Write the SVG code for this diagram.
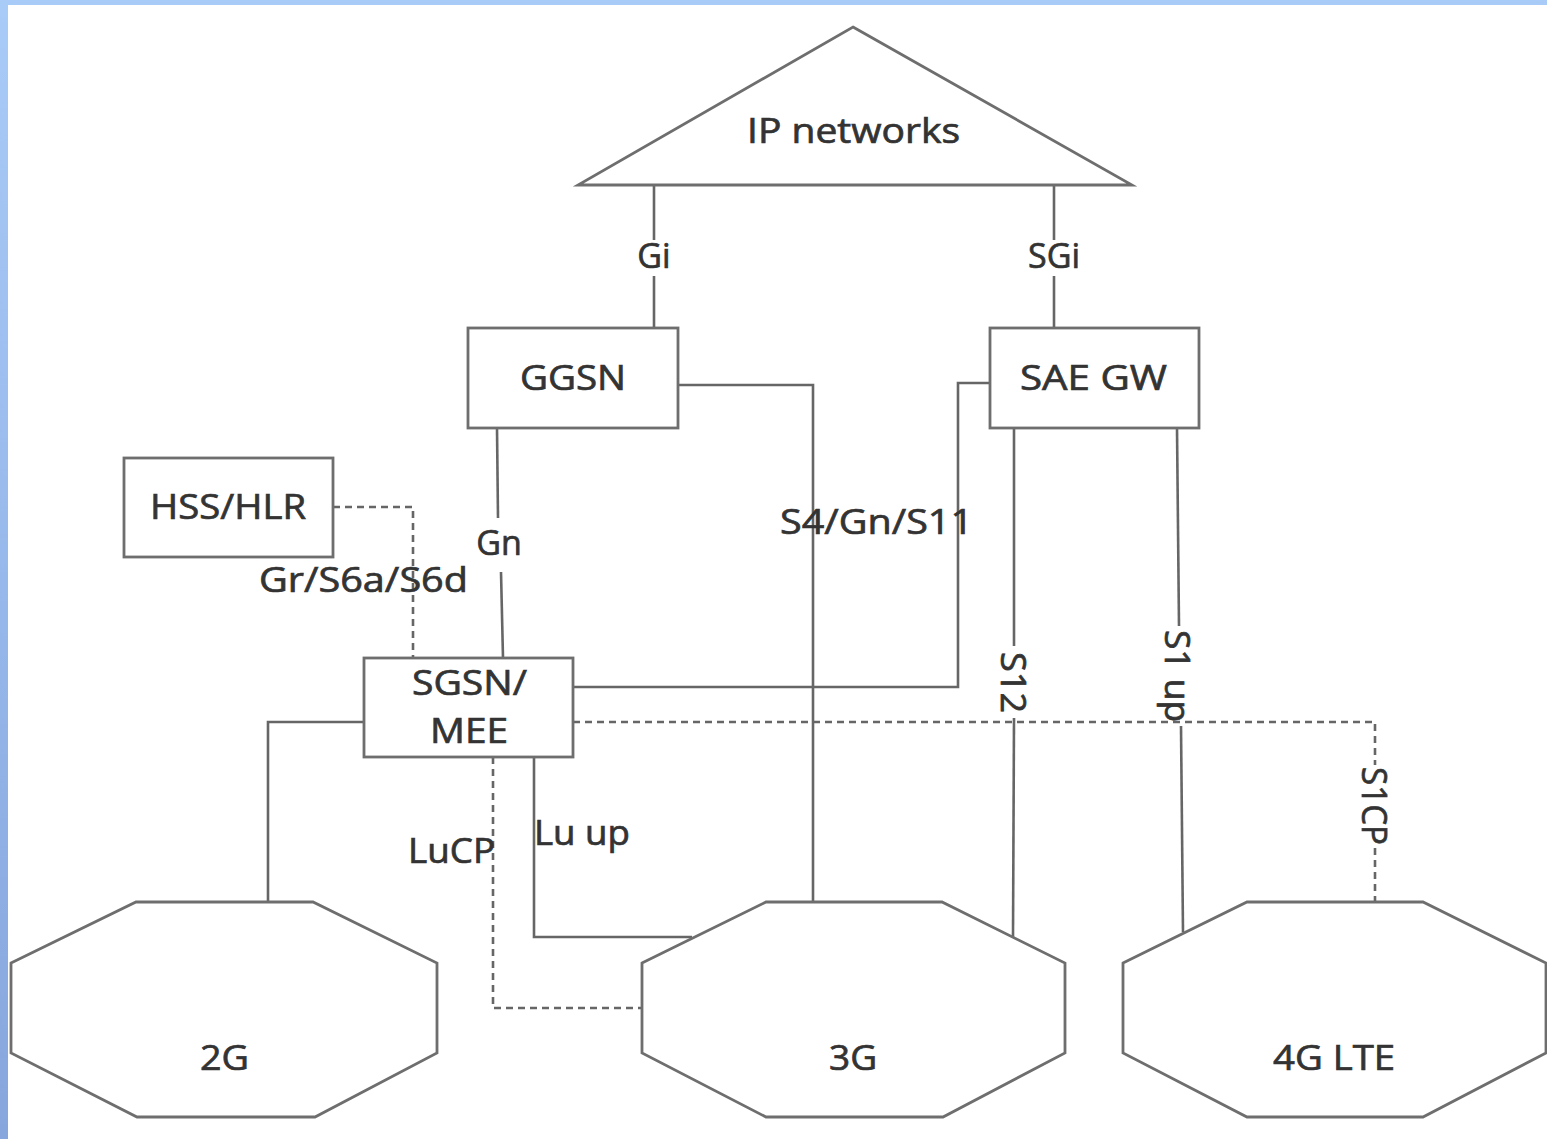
<svg xmlns="http://www.w3.org/2000/svg" width="1547" height="1139" viewBox="0 0 1547 1139">
<defs>
<linearGradient id="side" x1="0" y1="0" x2="0" y2="1">
<stop offset="0" stop-color="#a9cbf8"/>
<stop offset="1" stop-color="#86a6dd"/>
</linearGradient>
<style>
.shape{fill:#ffffff;stroke:#6e6e6e;stroke-width:2.8}
.ln{fill:none;stroke:#666666;stroke-width:2.6}
.dash{fill:none;stroke:#666666;stroke-width:2.6;stroke-dasharray:7 5}
text{font-family:"Open Sans","Liberation Sans",sans-serif;font-size:34px;fill:#333333;stroke:#333333;stroke-width:0.7}
.c{text-anchor:middle}
</style>
</defs>
<rect x="0" y="0" width="1547" height="1139" fill="#ffffff"/>
<rect x="0" y="0" width="1547" height="5" fill="#a9cbf8"/>
<rect x="0" y="0" width="8" height="1139" fill="url(#side)"/>

<g id="connectors">
<line class="ln" x1="654" y1="185" x2="654" y2="240"/>
<line class="ln" x1="654" y1="276" x2="654" y2="328"/>
<line class="ln" x1="1054" y1="185" x2="1054" y2="240"/>
<line class="ln" x1="1054" y1="276" x2="1054" y2="328"/>
<polyline class="ln" points="678,385 813,385 813,902"/>
<polyline class="ln" points="990,383 958,383 958,687 573,687"/>
<line class="ln" x1="1014" y1="428" x2="1014" y2="646"/>
<line class="ln" x1="1014" y1="718" x2="1013" y2="937"/>
<line class="ln" x1="1177" y1="428" x2="1179" y2="626"/>
<line class="ln" x1="1181" y1="726" x2="1183" y2="932"/>
<polyline class="dash" points="333,507 413,507 413,658"/>
<line class="ln" x1="497" y1="428" x2="498" y2="518"/>
<line class="ln" x1="501" y1="572" x2="503" y2="658"/>
<polyline class="ln" points="364,722 268,722 268,902"/>
<polyline class="dash" points="573,722 1375,722 1375,765"/>
<line class="dash" x1="1375" y1="848" x2="1375" y2="902"/>
<polyline class="ln" points="534,757 534,937 692,937"/>
<polyline class="dash" points="493,757 493,1008 642,1008"/>
<text class="c" x="654" y="268">Gi</text>
<text class="c" x="1054" y="268">SGi</text>
<text class="c" x="499" y="555">Gn</text>
<text x="259" y="592" textLength="209" lengthAdjust="spacingAndGlyphs">Gr/S6a/S6d</text>
<text x="780" y="534" textLength="193" lengthAdjust="spacingAndGlyphs">S4/Gn/S11</text>
<text x="408" y="863" textLength="87" lengthAdjust="spacingAndGlyphs">LuCP</text>
<text x="534" y="845" textLength="96" lengthAdjust="spacingAndGlyphs">Lu up</text>
<text transform="translate(1001,652) rotate(90)" textLength="61" lengthAdjust="spacingAndGlyphs">S12</text>
<text transform="translate(1165,630) rotate(90)" textLength="92" lengthAdjust="spacingAndGlyphs">S1 up</text>
<text transform="translate(1362,767) rotate(90)" textLength="78" lengthAdjust="spacingAndGlyphs">S1CP</text>
</g>

<g id="ip-networks">
<polygon class="shape" points="853,27 1132,185 578,185"/>
<text x="747" y="143" textLength="213" lengthAdjust="spacingAndGlyphs">IP networks</text>
</g>
<g id="ggsn">
<rect class="shape" x="468" y="328" width="210" height="100"/>
<text x="520" y="390" textLength="106" lengthAdjust="spacingAndGlyphs">GGSN</text>
</g>
<g id="sae-gw">
<rect class="shape" x="990" y="328" width="209" height="100"/>
<text x="1020" y="390" textLength="147" lengthAdjust="spacingAndGlyphs">SAE GW</text>
</g>
<g id="hss-hlr">
<rect class="shape" x="124" y="458" width="209" height="99"/>
<text x="150" y="519" textLength="156" lengthAdjust="spacingAndGlyphs">HSS/HLR</text>
</g>
<g id="sgsn-mee">
<rect class="shape" x="364" y="658" width="209" height="99"/>
<text x="412" y="695" textLength="115" lengthAdjust="spacingAndGlyphs">SGSN/</text>
<text x="430" y="743" textLength="78" lengthAdjust="spacingAndGlyphs">MEE</text>
</g>
<g id="net-2g">
<polygon class="shape" points="11,963 136,902 313,902 437,963 437,1053 315,1117 137,1117 11,1053"/>
<text x="200" y="1070" textLength="49" lengthAdjust="spacingAndGlyphs">2G</text>
</g>
<g id="net-3g">
<polygon class="shape" points="642,963 766,902 942,902 1065,963 1065,1053 943,1117 766,1117 642,1053"/>
<text x="829" y="1070" textLength="48" lengthAdjust="spacingAndGlyphs">3G</text>
</g>
<g id="net-4g-lte">
<polygon class="shape" points="1123,963 1247,902 1423,902 1546,963 1546,1053 1423,1117 1247,1117 1123,1053"/>
<text x="1273" y="1070" textLength="122" lengthAdjust="spacingAndGlyphs">4G LTE</text>
</g>
</svg>
